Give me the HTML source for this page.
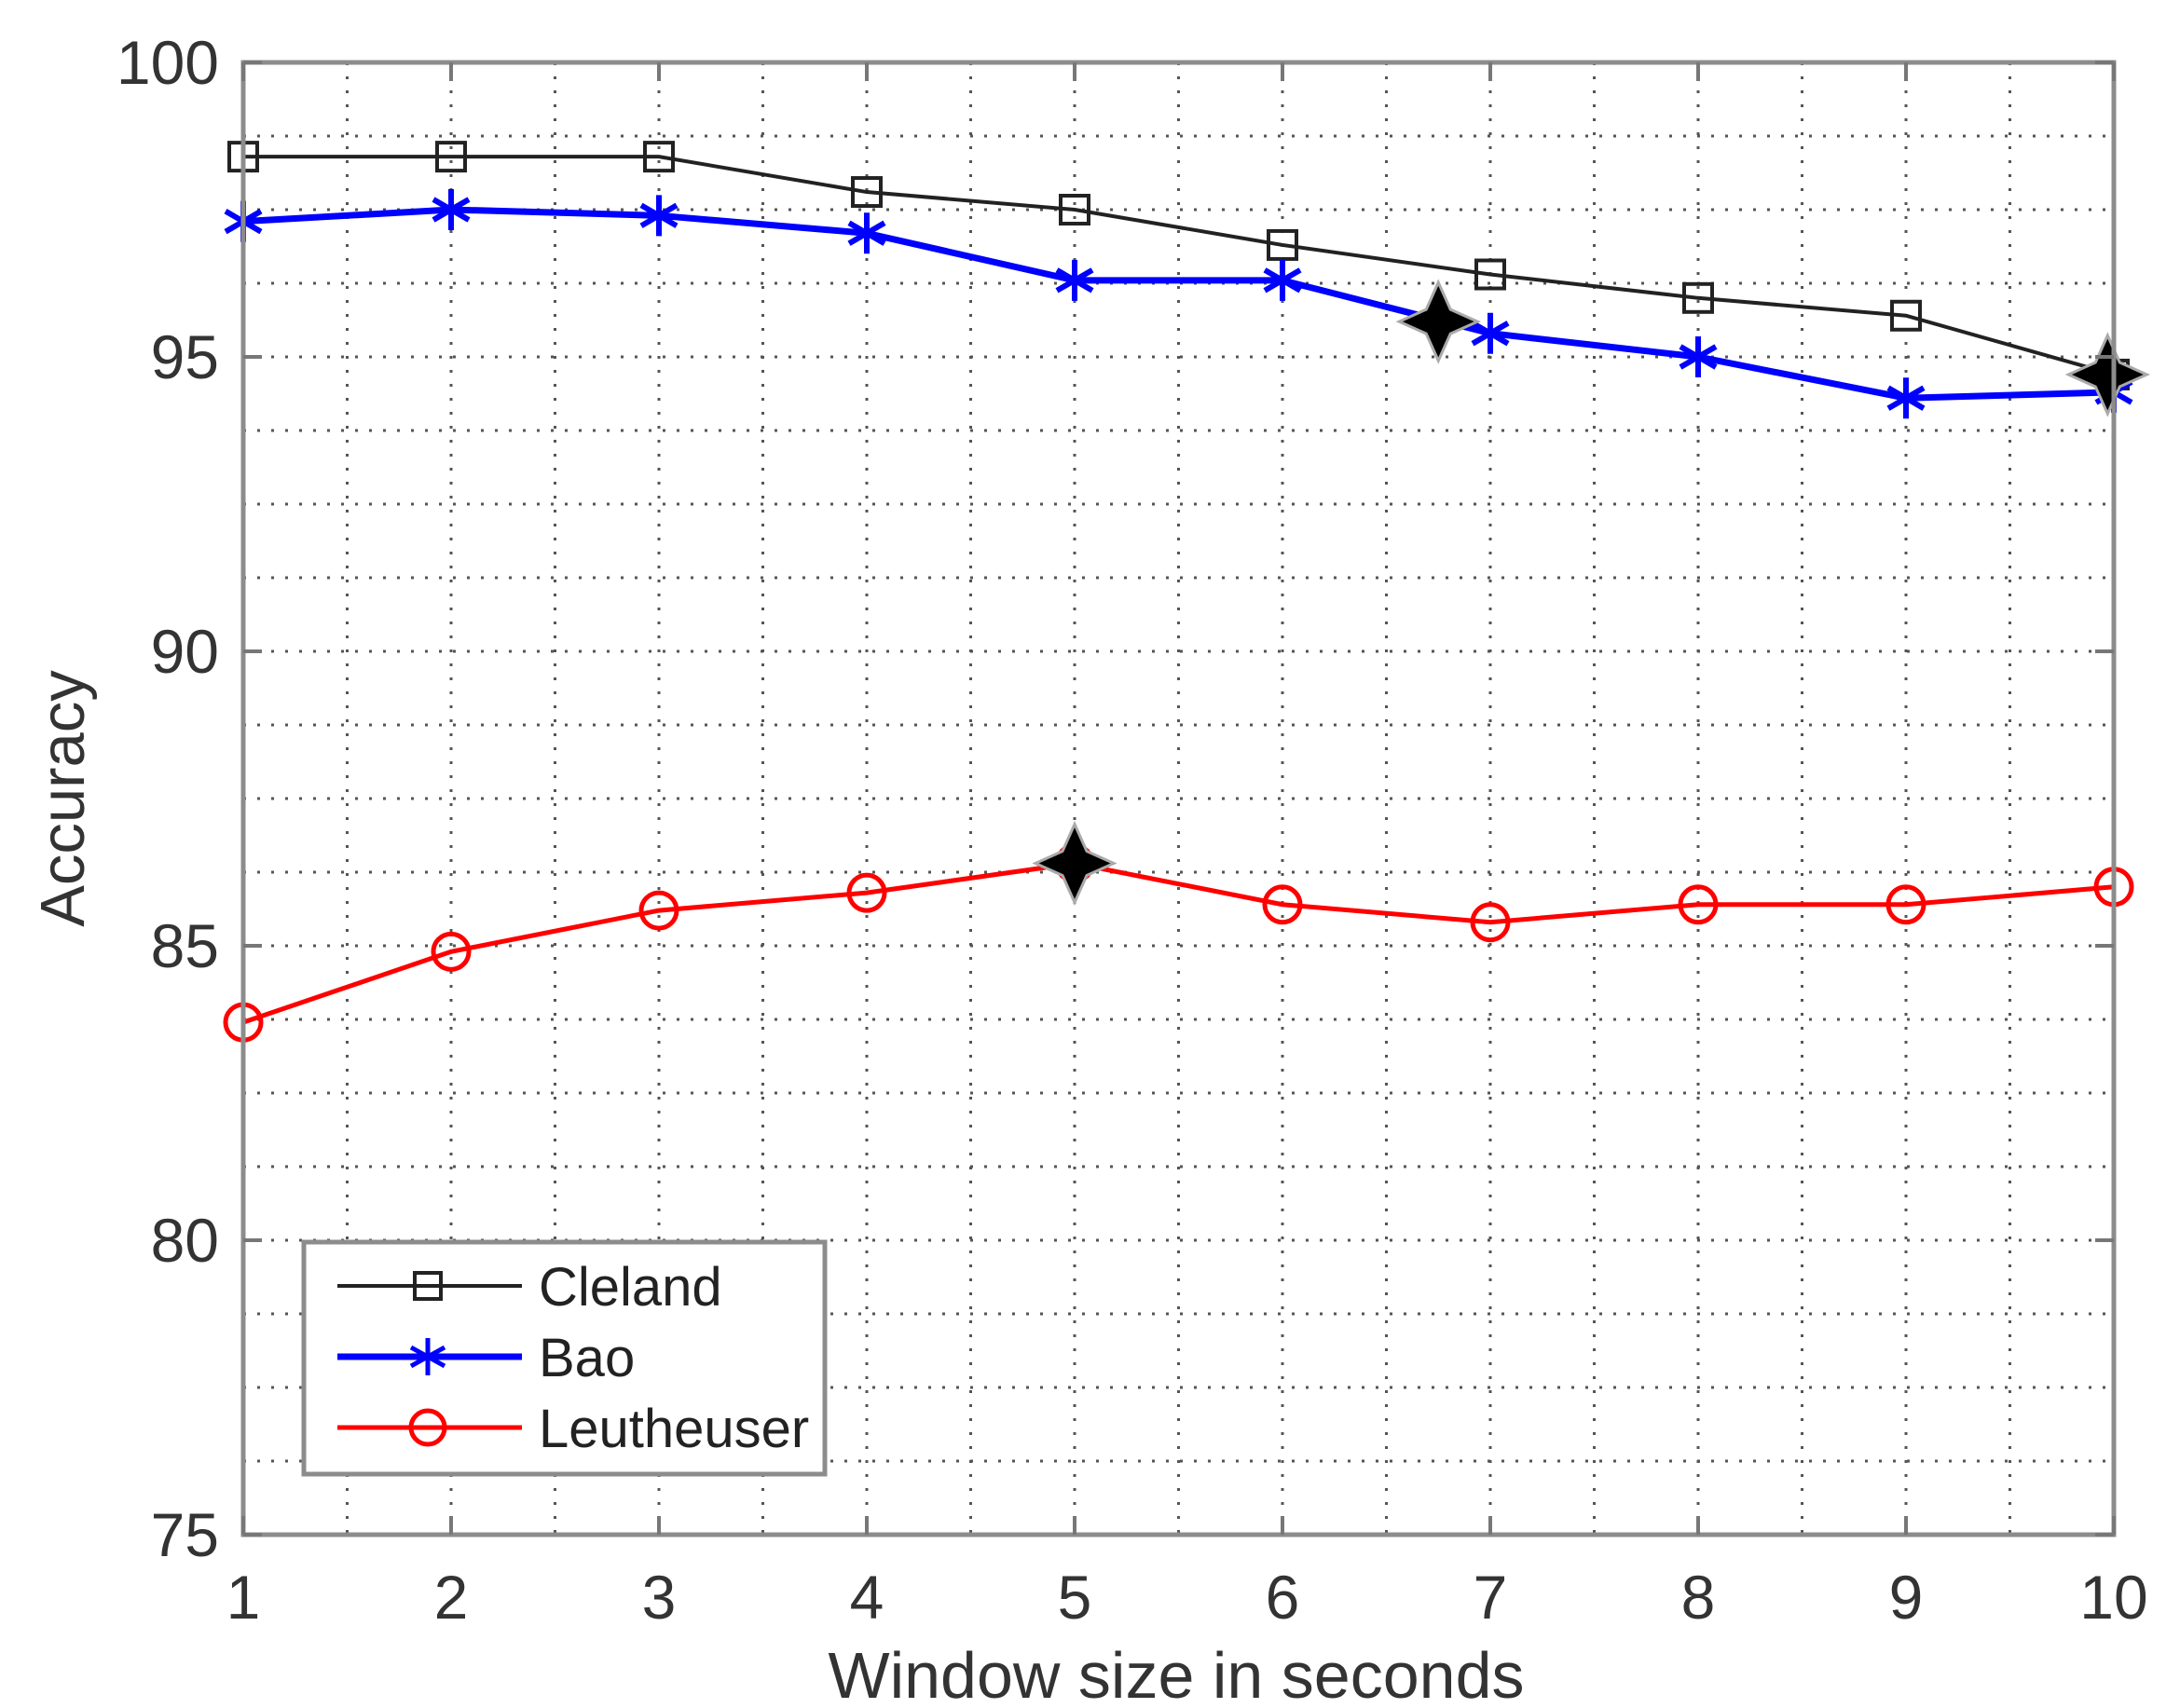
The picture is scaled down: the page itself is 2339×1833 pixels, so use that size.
<!DOCTYPE html>
<html><head><meta charset="utf-8"><style>
html,body{margin:0;padding:0;background:#fff;}
svg{display:block;font-family:"Liberation Sans",Arial,sans-serif;}
</style></head><body>
<svg id="chart" width="2339" height="1833" viewBox="0 0 2339 1833">
<g id="grid"></g>
<g id="series"></g>
<g id="axes"></g>
<text x="1262" y="1822" font-size="70" fill="#333" text-anchor="middle">Window size in seconds</text>
<text x="0" y="0" font-size="67" fill="#333" text-anchor="middle" transform="translate(90,857) rotate(-90)">Accuracy</text>
<g id="legend">
<rect x="326" y="1333" width="559" height="249" fill="#fff" stroke="#8c8c8c" stroke-width="5"/>
<g>
<line x1="362" y1="1380" x2="560" y2="1380" stroke="#222" stroke-width="4"/>
<rect x="445" y="1366" width="28" height="28" fill="none" stroke="#222" stroke-width="4"/>
<text x="578" y="1401" font-size="58" fill="#222">Cleland</text></g>
<g>
<line x1="362" y1="1456" x2="560" y2="1456" stroke="#0000ff" stroke-width="7"/>
<path d="M459 1436V1476M441 1446L477 1466M441 1466L477 1446" stroke="#0000ff" stroke-width="5"/>
<text x="578" y="1477" font-size="58" fill="#222">Bao</text></g>
<g>
<line x1="362" y1="1532" x2="560" y2="1532" stroke="#ff0000" stroke-width="5"/>
<circle cx="459" cy="1532" r="18" fill="none" stroke="#ff0000" stroke-width="5"/>
<text x="578" y="1553" font-size="58" fill="#222">Leutheuser</text></g>
</g>
</svg>
<script>
const categories=[1,2,3,4,5,6,7,8,9,10];
const cleland=[98.4,98.4,98.4,97.8,97.5,96.9,96.4,96.0,95.7,94.7];
const bao=[97.3,97.5,97.4,97.1,96.3,96.3,95.4,95.0,94.3,94.4];
const leutheuser=[83.7,84.9,85.6,85.9,86.4,85.7,85.4,85.7,85.7,86.0];
const starX=[6.75,5,9.97];
const starY=[95.6,86.4,94.7];
const xTicks=[1,2,3,4,5,6,7,8,9,10];
const yTicks=[75,80,85,90,95,100];

const L=261,R=2268,T=67,B=1647,xmin=1,xmax=10,ymin=75,ymax=100;
const sx=v=>L+(v-xmin)/(xmax-xmin)*(R-L);
const sy=v=>B-(v-ymin)/(ymax-ymin)*(B-T);
const NS='http://www.w3.org/2000/svg';
function mk(tag,attrs,parent){const e=document.createElementNS(NS,tag);for(const k in attrs)e.setAttribute(k,attrs[k]);parent.appendChild(e);return e;}
const grid=document.getElementById('grid'),ser=document.getElementById('series'),axes=document.getElementById('axes');
for(let x=xmin;x<=xmax+1e-9;x+=0.5){const l=mk('line',{x1:sx(x),x2:sx(x),y1:T,y2:B,stroke:'#555','stroke-width':3,'stroke-dasharray':'3 12'},grid);

}
for(let y=ymin;y<=ymax+1e-9;y+=1.25){const l=mk('line',{x1:L,x2:R,y1:sy(y),y2:sy(y),stroke:'#555','stroke-width':3,'stroke-dasharray':'3 12'},grid);

}
function series(vals,color,w,name,marker){
  const pts=vals.map((v,i)=>sx(categories[i])+','+sy(v)).join(' ');
  const pl=mk('polyline',{points:pts,fill:'none',stroke:color,'stroke-width':w},ser);
  
  
  vals.forEach((v,i)=>{const x=sx(categories[i]),y=sy(v);let m;
    if(marker==='sq')m=mk('rect',{x:x-15,y:y-15,width:30,height:30,fill:'none',stroke:color,'stroke-width':4},ser);
    else if(marker==='ci')m=mk('circle',{cx:x,cy:y,r:19,fill:'none',stroke:color,'stroke-width':5},ser);
    else m=mk('path',{d:`M${x} ${y-22}V${y+22}M${x-19} ${y-11}L${x+19} ${y+11}M${x-19} ${y+11}L${x+19} ${y-11}`,stroke:color,'stroke-width':6},ser);
    
    });
}
series(cleland,'#222',4,'cleland','sq');
series(bao,'#0000ff',7,'bao','st');
series(leutheuser,'#ff0000',5,'leutheuser','ci');
starX.forEach((v,i)=>{const x=sx(v),y=sy(starY[i]),a=42,b=13;
  const s=mk('path',{d:`M${x} ${y-a}L${x+b} ${y-b}L${x+a} ${y}L${x+b} ${y+b}L${x} ${y+a}L${x-b} ${y+b}L${x-a} ${y}L${x-b} ${y-b}Z`,fill:'#000',stroke:'#aaa','stroke-width':3},ser);
  
  });
const fr=mk('rect',{x:L,y:T,width:R-L,height:B-T,fill:'none',stroke:'#8c8c8c','stroke-width':5},axes);


xTicks.forEach(v=>{const x=sx(v);
  mk('line',{x1:x,x2:x,y1:B,y2:B-20,stroke:'#777','stroke-width':4},axes);
  mk('line',{x1:x,x2:x,y1:T,y2:T+20,stroke:'#777','stroke-width':4},axes);
  const t=mk('text',{x:x,y:1737,'font-size':66,fill:'#333','text-anchor':'middle'},axes);t.textContent=v;
  
  });
yTicks.forEach(v=>{const y=sy(v);
  mk('line',{x1:L,x2:L+20,y1:y,y2:y,stroke:'#777','stroke-width':4},axes);
  mk('line',{x1:R,x2:R-20,y1:y,y2:y,stroke:'#777','stroke-width':4},axes);
  const t=mk('text',{x:235,y:y+23,'font-size':66,fill:'#333','text-anchor':'end'},axes);t.textContent=v;
  
  });
</script>
</body></html>
